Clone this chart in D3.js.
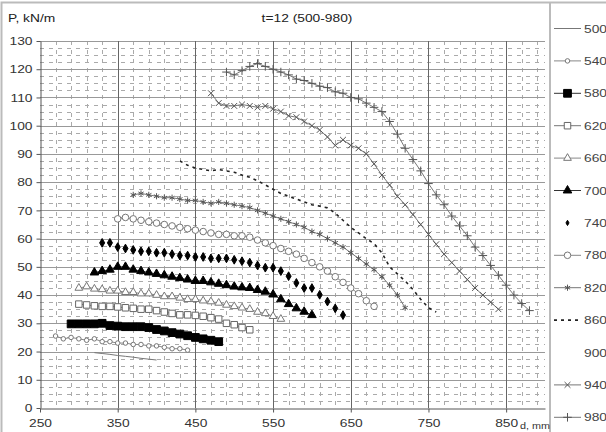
<!DOCTYPE html>
<html><head><meta charset="utf-8">
<script src="https://cdn.jsdelivr.net/npm/d3@7"></script>
<style>
html,body{margin:0;padding:0;background:#fff;}
svg{display:block;font-family:"Liberation Sans",Arial,sans-serif;}
</style></head>
<body>
<svg id="chart" width="606" height="432"></svg>
<script>
// ---------------- DATA ----------------
const seriesNames = ["500","540","580","620","660","700","740","780","820","860","900","940","980"];
const xTicks = [250,350,450,550,650,750,850];
const yTicks = [0,10,20,30,40,50,60,70,80,90,100,110,120,130];

const d500 = [320,330,340,350,360,370,380,390,400];
const p500 = [19.6,19.3,19.0,18.6,18.3,18.0,17.6,17.3,17.0];

const d540 = [270,280,290,300,310,320,330,340,350,360,370,380,390,400,410,420,430,440];
const p540 = [25.5,24.5,25,24.5,24,24.5,23.5,23.5,23,23,22.5,22.5,22,22,21.5,21,21,20.5];

const d580 = [290,300,310,320,330,340,350,360,370,380,390,400,410,420,430,440,450,460,470,480];
const p580 = [29.8,29.8,29.8,29.8,30,29.2,29,28.8,28.8,28.8,28.5,27.8,27.3,26.7,26.2,25.6,25,24.5,24,23.5];

const d620 = [300,310,320,330,340,350,360,370,380,390,400,410,420,430,440,450,460,470,480,490,500,510,520];
const p620 = [36.8,36.5,36.2,36,36,35.8,35.5,35.3,35,35,34.5,34,33.5,33,33,32.8,32.5,32,31.5,30,29.5,28.5,27.7];

const d660 = [300,310,320,330,340,350,360,370,380,390,400,410,420,430,440,450,460,470,480,490,500,510,520,530,540,550,560];
const p660 = [42.5,43,42.2,42,41.5,41.5,41,41,40.5,40.5,40,39.5,39.5,39,38.5,38.5,38,37.7,37.2,36.5,36,35.5,35,34,33.5,32.5,31.5];

const d700 = [320,330,340,350,360,370,380,390,400,410,420,430,440,450,460,470,480,490,500,510,520,530,540,550,560,570,580,590,600];
const p700 = [48,48.5,49,50,50,49,48.5,48,47.5,47,46.5,46,45.5,45,45,44.5,44,43.5,43,42.7,42.5,41.8,41.2,40.2,38.5,36.8,35.3,34.1,32.9];

const d740 = [330,340,350,360,370,380,390,400,410,420,430,440,450,460,470,480,490,500,510,520,530,540,550,560,570,580,590,600,610,620,630,640];
const p740 = [58.5,58.5,57,56.5,56,55.5,55.5,55,55,54.5,54,54,53.5,53.5,53,53,53,52.5,52,51.5,50.5,49.7,49.7,48.5,46.7,44.3,42.5,42.5,40.1,37.7,35.3,32.9];

const d780 = [350,360,370,380,390,400,410,420,430,440,450,460,470,480,490,500,510,520,530,540,550,560,570,580,590,600,610,620,630,640,650,660,670,680];
const p780 = [67,67.5,67,66.5,66,65.5,65,64.5,64,63.5,63,62.5,62,61.5,61.5,61,61,60.5,59.5,58.5,57.5,56.5,55.5,54.5,53,51.5,50,48.5,46.5,44.5,42.5,40.5,38,36];

const d820 = [370,380,390,400,410,420,430,440,450,460,470,480,490,500,510,520,530,540,550,560,570,580,590,600,610,620,630,640,650,660,670,680,690,700,710,720];
const p820 = [75.5,76,75.5,75,74.5,74.5,74,73.5,73.5,73,72.5,73,72.5,72,71.5,71,70,69,68,67,66,65,64,62.5,61.5,60,58.5,57,55,53,51,49,46.5,43.5,40,35.5];

const d860 = [430,440,450,460,470,480,490,500,510,520,530,540,550,560,570,580,590,600,610,620,630,640,650,660,670,680,690,700,710,720,730,740,750,760];
const p860 = [87.5,86,85,84.5,84,84.5,84,83.5,82.5,81.7,80.5,79,77.5,76,75,74,73,72,71.5,70.9,69,66.5,64,62,60,58.2,55,50,47.5,45,42,38.5,35.5,34];

const d900 = [];
const p900 = [];

const d940 = [470,480,490,500,510,520,530,540,550,560,570,580,590,600,610,620,630,640,650,660,670,680,690,700,710,720,730,740,750,760,770,780,790,800,810,820,830,840];
const p940 = [111.5,108,107,107,107.5,107,106.5,107,106,105,103.5,103,101.5,100,98.5,96,93,95,93,92,90,86.5,82.5,79,75,72,68.5,65,61.5,58,54.5,51.5,48.5,45.5,42.5,40,37.5,35];

const d980 = [490,500,510,520,530,540,550,560,570,580,590,600,610,620,630,640,650,660,670,680,690,700,710,720,730,740,750,760,770,780,790,800,810,820,830,840,850,860,870,880];
const p980 = [119,118,119.5,121,122,121,120,119,118,116.5,116,115,114,113.5,112,111.5,110,109.5,108,106.5,105,101.5,97,92,88,84,79.5,75.5,72,68,64.5,61,57,54,50.5,47,43.5,40,37,34.5];

// ---------------- STYLES ----------------
const styles = {
  "500": {line:true, stroke:"#777"},
  "540": {line:true, stroke:"#888", sym:d3.symbolCircle, size:16, fill:"#fff", mstroke:"#777"},
  "580": {line:true, stroke:"#333", sym:d3.symbolSquare, size:60, fill:"#000", mstroke:"#000"},
  "620": {line:true, stroke:"#777", sym:d3.symbolSquare, size:42, fill:"#fff", mstroke:"#666"},
  "660": {line:true, stroke:"#888", sym:d3.symbolTriangle, size:26, fill:"#fff", mstroke:"#777"},
  "700": {line:true, stroke:"#333", sym:d3.symbolTriangle, size:32, fill:"#000", mstroke:"#000"},
  "740": {line:false, sym:d3.symbolDiamond, size:22, fill:"#000", mstroke:"#000", lsize:8},
  "780": {line:true, stroke:"#888", sym:d3.symbolCircle, size:34, fill:"#fff", mstroke:"#777"},
  "820": {line:true, stroke:"#777", sym:d3.symbolAsterisk, size:26, fill:"none", mstroke:"#555"},
  "860": {line:true, stroke:"#222", dash:"3,4", width:1.6},
  "900": {line:false},
  "940": {line:true, stroke:"#777", sym:d3.symbolTimes, size:24, fill:"none", mstroke:"#555"},
  "980": {line:true, stroke:"#777", sym:d3.symbolPlus, size:26, fill:"none", mstroke:"#555"}
};

const allD = [d500,d540,d580,d620,d660,d700,d740,d780,d820,d860,d900,d940,d980];
const allP = [p500,p540,p580,p620,p660,p700,p740,p780,p820,p860,p900,p940,p980];

// ---------------- CHART ----------------
const svg = d3.select("#chart");
const x = d3.scaleLinear().domain([250,900]).range([40,545]);
const y = d3.scaleLinear().domain([0,130]).range([408,41]);
const SX = 1.2; // horizontal stretch of the text, as in the picture

function label(px, py, str, size, anchor, fill){
  svg.append("text").attr("transform",`translate(${px},${py}) scale(${SX},1)`)
    .attr("text-anchor",anchor||"start").attr("font-size",size).attr("fill",fill||"#222").text(str);
}

// outer frame (top, left) and legend separator
svg.append("rect").attr("x",1.5).attr("y",2.5).attr("width",640).attr("height",460)
  .attr("fill","none").attr("stroke","#bbb").attr("stroke-width",2);
svg.append("line").attr("x1",550).attr("x2",550).attr("y1",3).attr("y2",432)
  .attr("stroke","#bbb").attr("stroke-width",2);

// minor grid
const xMinor = d3.range(270,900,20).filter(v => (v-250)%100 !== 0);
const yMinor = d3.range(2.5,130,2.5).filter(v => v%10 !== 0);
const g = svg.append("g");
g.selectAll(".xm").data(xMinor).join("line")
  .attr("x1",d=>Math.round(x(d))+0.5).attr("x2",d=>Math.round(x(d))+0.5).attr("y1",y(130)).attr("y2",y(0))
  .attr("stroke","#aaa").attr("stroke-width",1).attr("stroke-dasharray","4,5");
g.selectAll(".ym").data(yMinor).join("line")
  .attr("x1",x(250)).attr("x2",x(900)).attr("y1",d=>Math.round(y(d))+0.5).attr("y2",d=>Math.round(y(d))+0.5)
  .attr("stroke","#aaa").attr("stroke-width",1).attr("stroke-dasharray","4,5");
// major grid
g.selectAll(".yM").data(yTicks.filter(v=>v>0)).join("line")
  .attr("x1",x(250)).attr("x2",x(900)).attr("y1",d=>Math.round(y(d))+0.5).attr("y2",d=>Math.round(y(d))+0.5)
  .attr("stroke","#999").attr("stroke-width",1);
g.selectAll(".xM").data(xTicks.filter(v=>v>250)).join("line")
  .attr("x1",d=>Math.round(x(d))+0.5).attr("x2",d=>Math.round(x(d))+0.5).attr("y1",y(130)).attr("y2",y(0))
  .attr("stroke","#666").attr("stroke-width",1);

// axes
const yAxis = svg.append("g").attr("transform",`translate(${x(250)+0.5},0)`)
  .call(d3.axisLeft(y).tickValues(yTicks).tickSize(4).tickSizeOuter(0));
const xAxis = svg.append("g").attr("transform",`translate(0,${Math.round(y(0))+0.5})`)
  .call(d3.axisBottom(x).tickValues(xTicks).tickSize(4).tickSizeOuter(0).tickPadding(6));
[yAxis,xAxis].forEach(a=>{
  a.select(".domain").attr("stroke","#555");
  a.selectAll(".tick line").attr("stroke","#555");
  a.selectAll(".tick text").attr("fill","#333").style("font-size","11.5px")
    .style("font-family","'Liberation Sans',Arial,sans-serif");
});
yAxis.selectAll(".tick text").attr("x",-8/SX).attr("transform",`scale(${SX},1)`);
xAxis.selectAll(".tick text").attr("transform",`scale(${SX},1)`);

// titles
label(8, 22, "P, kN/m", 11.5, "start", "#222");
label(307, 22, "t=12 (500-980)", 11.5, "middle", "#222");
label(520, 429, "d, mm", 9, "start", "#333");

// series
const plot = svg.append("g");
seriesNames.forEach((name,i)=>{
  const st = styles[name];
  const pts = allD[i].map((d,k)=>[d, allP[i][k]]);
  if (st.line && pts.length){
    plot.append("path").datum(pts)
      .attr("d", d3.line().x(p=>x(p[0])).y(p=>y(p[1])))
      .attr("fill","none").attr("stroke",st.stroke).attr("stroke-width",st.width||1)
      .attr("stroke-dasharray",st.dash||null);
  }
  if (st.sym){
    plot.selectAll(null).data(pts).join("path")
      .attr("transform",p=>`translate(${x(p[0])},${y(p[1])})`)
      .attr("d", d3.symbol().type(st.sym).size(st.size))
      .attr("fill",st.fill).attr("stroke",st.mstroke).attr("stroke-width",1);
  }
});

// legend
seriesNames.forEach((name,i)=>{
  const st = styles[name];
  const cy = 28 + i*32.4;
  const row = svg.append("g").attr("transform",`translate(0,${cy})`);
  if (st.line){
    row.append("line").attr("x1",554).attr("x2",581).attr("y1",0.5).attr("y2",0.5)
      .attr("stroke",st.stroke).attr("stroke-width",st.width||1).attr("stroke-dasharray",st.dash||null);
  }
  if (st.sym){
    row.append("path").attr("transform","translate(567.5,0.5)")
      .attr("d", d3.symbol().type(st.sym).size(st.lsize||st.size))
      .attr("fill",st.fill).attr("stroke",st.mstroke).attr("stroke-width",1);
  }
  row.append("text").attr("transform",`translate(584,4.5) scale(${SX},1)`).text(name)
    .attr("font-size",11.5).attr("fill","#444");
});
</script>
</body></html>
